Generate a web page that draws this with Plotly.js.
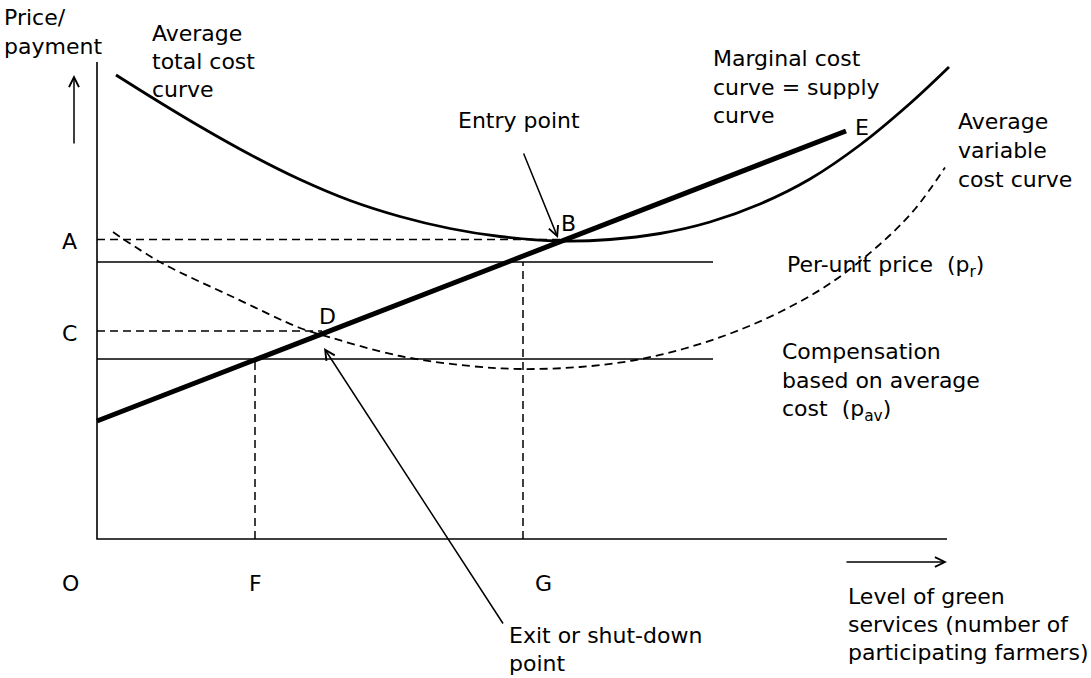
<!DOCTYPE html>
<html>
<head>
<meta charset="utf-8">
<script src="https://cdn.plot.ly/plotly-3.0.1.min.js"></script>
<style>html,body{margin:0;padding:0;background:#fff;}#chart{width:1091px;height:678px;}</style>
</head>
<body>
<div id="chart"></div>
<script>
// ---- Data (quantity units on x, price units on y; schematic) ----
const qATC = [3.8, 12.6, 20.6, 30.6, 40.6, 50.6, 60.6, 70.6, 80.6, 92.6, 102.6, 112.6, 122.6, 132.6, 142.6, 152.6, 162.6, 170.4];
const pATC = [92.8, 87.3, 82.5, 76.9, 71.9, 67.7, 64.5, 62.1, 60.5, 59.6, 59.9, 61.1, 63.4, 67.0, 72.0, 78.8, 87.1, 94.4];

const qAVC = [3.2, 12.6, 27.2, 40.6, 45, 60.6, 74.6, 85.2, 96.6, 107.2, 117.2, 127.2, 137.2, 147.2, 157.2, 163.6, 169.6];
const pAVC = [61.4, 55.4, 48.4, 42.2, 40.8, 36.6, 34.6, 34.0, 34.4, 35.7, 38.0, 41.3, 45.7, 51.5, 59.5, 66.0, 74.3];

const qMC = [0, 149.8];
const pMC = [23.6, 81.6];

const policyNames = ['Per-unit price (pr)', 'Compensation based on average cost (pav)'];
const policyPrices = [55.4, 36.0];
const policyMaxQ = 123.2;

const priceTickLabels = ['A', 'C'];
const priceTickValues = [59.9, 41.6];
const priceTickToQ = [92.6, 45.0];

const qtyTickLabels = ['O', 'F', 'G'];
const qtyTickValues = [0, 31.6, 85.2];
const qtyTickToP = [0, 36.0, 55.4];

const pointLabels = ['B', 'D', 'E'];
const pointQ = [92.6, 45.0, 149.8];
const pointP = [59.6, 41.0, 81.6];

const axisMaxQ = 170;
const axisMaxP = 95.4;

// ---- Traces ----
const traces = [];
const blk = '#000';
// axes
traces.push({x: [0, 0, axisMaxQ], y: [axisMaxP, 0, 0], mode: 'lines', line: {color: blk, width: 1.6}, hoverinfo: 'skip'});
// ATC
traces.push({x: qATC, y: pATC, mode: 'lines', line: {color: blk, width: 2.8, shape: 'spline', smoothing: 1}, name: 'Average total cost curve'});
// AVC
traces.push({x: qAVC, y: pAVC, mode: 'lines', line: {color: blk, width: 1.8, dash: '8px,5px', shape: 'spline', smoothing: 1}, name: 'Average variable cost curve'});
// policy price lines
policyPrices.forEach((p, i) => {
  traces.push({x: [0, policyMaxQ], y: [p, p], mode: 'lines', line: {color: blk, width: 1.6}, name: policyNames[i]});
});
// dashed price guides A, C
priceTickValues.forEach((p, i) => {
  traces.push({x: [0, priceTickToQ[i]], y: [p, p], mode: 'lines', line: {color: blk, width: 1.5, dash: '8px,5px'}, hoverinfo: 'skip'});
});
// dashed quantity guides F, G
qtyTickValues.forEach((q, i) => {
  if (qtyTickToP[i] > 0) traces.push({x: [q, q], y: [0, qtyTickToP[i]], mode: 'lines', line: {color: blk, width: 1.5, dash: '8px,5px'}, hoverinfo: 'skip'});
});
// MC (supply)
traces.push({x: qMC, y: pMC, mode: 'lines', line: {color: blk, width: 5}, name: 'Marginal cost curve = supply curve'});

// ---- Annotations ----
const F = {family: 'DejaVu Sans, Verdana, sans-serif', size: 22, color: blk};
function txt(text, x, y, xanchor) {
  return {text: text, x: x, y: y, xref: 'x', yref: 'y', xanchor: xanchor || 'left', yanchor: 'middle', showarrow: false, font: F};
}
function arrow(x, y, ax, ay) {
  return {text: '', x: x, y: y, ax: ax, ay: ay, xref: 'x', yref: 'y', axref: 'x', ayref: 'y', showarrow: true,
          arrowhead: 5, arrowsize: 1.3, arrowwidth: 1.5, arrowcolor: blk, standoff: 0, startstandoff: 0};
}
const nb = '\u00a0';
const ann = [
  txt('Price/', -19.0, 104.4),
  txt('payment', -19.0, 98.6),
  txt('Average', 10.6, 101.2),
  txt('total cost', 10.6, 95.6),
  txt('curve', 10.6, 90.0),
  txt('Entry point', 71.8, 83.8),
  txt('Marginal cost', 122.8, 96.2),
  txt('curve = supply', 122.8, 90.4),
  txt('curve', 122.8, 84.8),
  txt('Average', 171.8, 83.6),
  txt('variable', 171.8, 77.8),
  txt('cost curve', 171.8, 72.0),
  txt('Per-unit price' + nb + nb + '(p<sub>r</sub>)', 137.6, 54.6),
  txt('Compensation', 136.6, 37.6),
  txt('based on average', 136.6, 31.8),
  txt('cost' + nb + nb + '(p<sub>av</sub>)', 136.6, 25.8),
  txt('Exit or shut-down', 82.0, -19.2),
  txt('point', 82.0, -24.8),
  txt('Level of green', 149.8, -11.4),
  txt('services (number of', 149.8, -17.0),
  txt('participating farmers)', 149.8, -22.6),
  // arrows
  arrow(-4.6, 92.8, -4.6, 78.8),
  arrow(170, -4.6, 149.6, -4.6),
  arrow(92.2, 60.2, 85.2, 77.4),
  arrow(45.4, 38.2, 81.4, -17.2)
];
priceTickLabels.forEach((l, i) => ann.push(txt(l, -5.6, priceTickValues[i] - 0.4, 'center')));
qtyTickLabels.forEach((l, i) => ann.push(txt(l, (i === 2 ? qtyTickValues[i] + 4 : qtyTickValues[i] - (i === 0 ? 5.4 : 0)), -8.8, 'center')));
const pointOffsets = [[1.7, 3.6], [1.0, 3.6], [1.4, 0.8]];
pointLabels.forEach((l, i) => ann.push(txt(l, pointQ[i] + pointOffsets[i][0], pointP[i] + pointOffsets[i][1], i === 2 ? 'left' : 'center')));

const layout = {
  width: 1091, height: 678, autosize: false,
  margin: {l: 0, r: 0, t: 0, b: 0, pad: 0},
  paper_bgcolor: '#fff', plot_bgcolor: '#fff',
  showlegend: false,
  xaxis: {range: [-19.4, 198.8], visible: false, fixedrange: true},
  yaxis: {range: [-27.8, 107.8], visible: false, fixedrange: true},
  annotations: ann,
  font: F
};
Plotly.newPlot('chart', traces, layout, {displayModeBar: false, staticPlot: true});
</script>
</body>
</html>
